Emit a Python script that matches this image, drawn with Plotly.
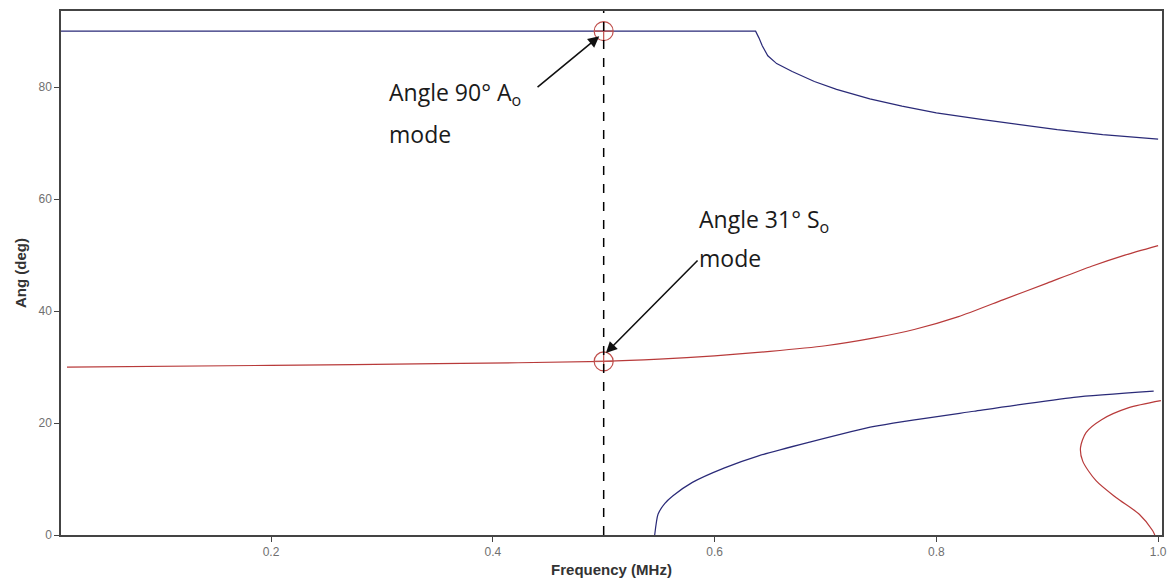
import plotly.graph_objects as go

# A0 mode (upper blue curve)
a0_freq = [0.0106, 0.2, 0.4, 0.5, 0.6, 0.637, 0.640, 0.643, 0.648, 0.656, 0.670, 0.690,
           0.710, 0.740, 0.769, 0.800, 0.842, 0.875, 0.909, 0.950, 1.0]
a0_ang = [90, 90, 90, 90, 90, 90, 88.8, 87.4, 85.6, 84.2, 82.8, 81.0,
          79.6, 77.9, 76.6, 75.4, 74.2, 73.3, 72.4, 71.5, 70.7]

# A1 mode (lower blue curve)
a1_freq = [0.546, 0.549, 0.555, 0.5625, 0.580, 0.609, 0.639, 0.684, 0.744, 0.834, 0.924, 0.996]
a1_ang = [0.0, 3.7, 5.6, 7.0, 9.4, 12.0, 14.1, 16.5, 19.4, 22.1, 24.6, 25.7]

# S0 mode (middle red curve)
s0_freq = [0.016, 0.2, 0.35, 0.5, 0.55, 0.6, 0.65, 0.70, 0.744, 0.78, 0.82, 0.86, 0.90, 0.94, 0.97, 1.0]
s0_ang = [30.0, 30.3, 30.6, 31.0, 31.4, 32.0, 32.8, 33.8, 35.2, 36.7, 39.0, 42.0, 45.0, 48.0, 50.0, 51.7]

# S1 mode (red loop, bottom right)
s1_freq = [1.0025, 0.973, 0.949, 0.935, 0.930, 0.932, 0.944, 0.962, 0.983, 0.995, 0.997]
s1_ang = [24.0, 22.7, 20.6, 18.3, 15.6, 13.2, 9.7, 6.7, 3.7, 0.8, 0.0]

# marked points
mark_freq = [0.5, 0.5]
mark_ang = [90, 31]

x_ticks = [0.2, 0.4, 0.6, 0.8, 1.0]
y_ticks = [0, 20, 40, 60, 80]

BLUE = "#2a2a78"
RED = "#b83a3a"

fig = go.Figure()
fig.add_trace(go.Scatter(x=a0_freq, y=a0_ang, mode="lines",
                         line=dict(color=BLUE, width=1.2)))
fig.add_trace(go.Scatter(x=a1_freq, y=a1_ang, mode="lines",
                         line=dict(color=BLUE, width=1.2, shape="spline", smoothing=0.6)))
fig.add_trace(go.Scatter(x=s0_freq, y=s0_ang, mode="lines",
                         line=dict(color=RED, width=1.2, shape="spline", smoothing=0.6)))
fig.add_trace(go.Scatter(x=s1_freq, y=s1_ang, mode="lines",
                         line=dict(color=RED, width=1.2, shape="spline", smoothing=0.8)))
fig.add_trace(go.Scatter(x=mark_freq, y=mark_ang, mode="markers",
                         marker=dict(symbol="circle-cross-open", size=19,
                                     color="#c0504d", line=dict(width=1.2, color="#c0504d"))))

fig.add_shape(type="line", x0=0.5, x1=0.5, y0=0, y1=1, xref="x", yref="paper",
              line=dict(color="black", width=1.5, dash="dash"))

ann_font = dict(family="Open Sans, Liberation Sans, sans-serif", size=23, color="#1a1a1a")

# arrows
fig.add_annotation(x=0.496, y=89.1, ax=0.439, ay=79.8, xref="x", yref="y", axref="x", ayref="y",
                   text="", showarrow=True, arrowhead=2, arrowsize=1.4, arrowwidth=1.6, arrowcolor="#111111")
fig.add_annotation(x=0.502, y=32.5, ax=0.586, ay=49.3, xref="x", yref="y", axref="x", ayref="y",
                   text="", showarrow=True, arrowhead=2, arrowsize=1.4, arrowwidth=1.6, arrowcolor="#111111")

# label texts
fig.add_annotation(x=0.305, y=78.9, xref="x", yref="y", text="Angle 90° A<sub>o</sub>",
                   showarrow=False, xanchor="left", yanchor="middle", font=ann_font)
fig.add_annotation(x=0.305, y=71.6, xref="x", yref="y", text="mode",
                   showarrow=False, xanchor="left", yanchor="middle", font=ann_font)
fig.add_annotation(x=0.584, y=56.2, xref="x", yref="y", text="Angle 31° S<sub>o</sub>",
                   showarrow=False, xanchor="left", yanchor="middle", font=ann_font)
fig.add_annotation(x=0.584, y=49.5, xref="x", yref="y", text="mode",
                   showarrow=False, xanchor="left", yanchor="middle", font=ann_font)

axis_common = dict(showgrid=False, zeroline=False, showline=True, mirror=True,
                   linecolor="#444444", linewidth=1.5, ticks="outside", ticklen=5,
                   tickcolor="#444444", tickfont=dict(family="Arial, Liberation Sans, sans-serif",
                                                      size=12, color="#707070"))

title_font = dict(family="Arial, Liberation Sans, sans-serif", size=15, color="#333333")

fig.update_layout(
    width=1176, height=585,
    margin=dict(l=61, r=9, t=11, b=48),
    plot_bgcolor="white", paper_bgcolor="white",
    showlegend=False,
    xaxis=dict(range=[0.0106, 1.0035], tickvals=x_ticks, tickformat=".1f",
               title=dict(text="<b>Frequency (MHz)</b>", standoff=6, font=title_font),
               **axis_common),
    yaxis=dict(range=[0, 93.6], tickvals=y_ticks,
               title=dict(text="<b>Ang (deg)</b>", standoff=8, font=title_font),
               **axis_common),
)

fig.write_html("out.html")
